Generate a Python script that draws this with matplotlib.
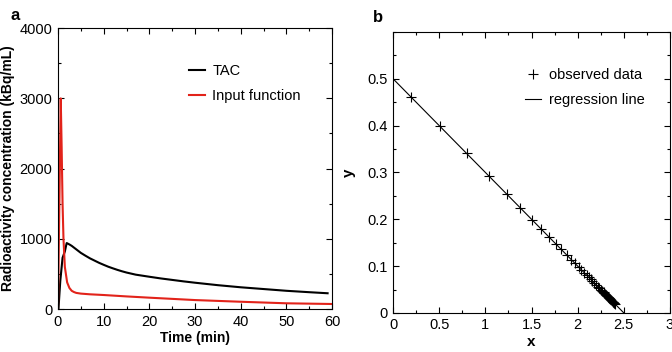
import numpy as np
import matplotlib
matplotlib.use("Agg")
import matplotlib.pyplot as plt
from matplotlib.ticker import MultipleLocator, FuncFormatter

plt.rcParams['font.family'] = ['Liberation Sans', 'DejaVu Sans']

# panel a: time-activity curve and input function
tac_t = [0.1, 0.5, 1.0, 1.5, 1.9, 2.5, 3, 3.5, 4, 4.5, 5, 6, 7, 8, 9, 10, 11,
         12, 13, 14, 15, 17, 20, 22.5, 25, 27.5, 30, 35, 40, 45, 50, 55, 59]
tac_v = [0, 400, 730, 820, 940, 920, 900, 875, 850, 825, 800, 760, 722, 690,
         658, 630, 603, 580, 558, 538, 520, 490, 460, 436, 415, 394, 375, 340,
         310, 285, 260, 240, 225]
inp_t = [0, 0.3, 0.6, 0.8, 1.0, 1.2, 1.5, 2, 2.5, 3, 3.5, 4, 5, 7, 10, 15, 20,
         30, 40, 50, 60]
inp_v = [0, 1500, 3000, 2300, 1500, 1000, 600, 380, 300, 260, 242, 230, 220,
         210, 200, 180, 162, 128, 104, 82, 72]

# panel b: observed data and regression line
obs_x = [0.19, 0.505, 0.80, 1.04, 1.23, 1.38, 1.505, 1.60, 1.69, 1.76, 1.82,
         1.88, 1.93, 1.97, 2.01, 2.04, 2.07, 2.10, 2.12, 2.14, 2.16, 2.18,
         2.20, 2.22, 2.235, 2.25, 2.265, 2.28, 2.29, 2.30, 2.31, 2.32, 2.33,
         2.34, 2.35, 2.36, 2.37, 2.38, 2.385, 2.39, 2.395, 2.40]
obs_y = [0.462, 0.399, 0.341, 0.293, 0.255, 0.224, 0.199, 0.180, 0.162, 0.148,
         0.136, 0.124, 0.114, 0.106, 0.098, 0.092, 0.086, 0.080, 0.076, 0.072,
         0.068, 0.064, 0.060, 0.056, 0.053, 0.050, 0.047, 0.044, 0.042, 0.040,
         0.038, 0.036, 0.034, 0.032, 0.030, 0.028, 0.026, 0.024, 0.023, 0.022,
         0.021, 0.020]
reg_x = [0, 2.5]
reg_y = [0.5, 0.0]


def style_axes(ax):
    ax.tick_params(which='both', direction='in', top=True, right=True,
                   labelsize=10.5, pad=4, width=0.8)
    ax.tick_params(which='major', length=4)
    ax.tick_params(which='minor', length=2.5)
    for s in ax.spines.values():
        s.set_linewidth(0.8)


fig = plt.figure(figsize=(6.72, 3.52), dpi=100)
ax1 = fig.add_axes([0.0863, 0.122, 0.408, 0.798])
ax2 = fig.add_axes([0.585, 0.111, 0.412, 0.798])

ax1.plot(tac_t, tac_v, color='black', lw=1.5, label='TAC')
ax1.plot(inp_t, inp_v, color='#e2231a', lw=1.5, label='Input function')
ax1.set_xlim(0, 60)
ax1.set_ylim(0, 4000)
ax1.xaxis.set_major_locator(MultipleLocator(10))
ax1.xaxis.set_minor_locator(MultipleLocator(5))
ax1.yaxis.set_major_locator(MultipleLocator(1000))
ax1.yaxis.set_minor_locator(MultipleLocator(500))
ax1.set_xlabel('Time (min)', fontsize=10, fontweight='bold', labelpad=2)
ax1.set_ylabel('Radioactivity concentration (kBq/mL)', fontsize=10,
               fontweight='bold', labelpad=3)
style_axes(ax1)
ax1.legend(loc='upper left', bbox_to_anchor=(0.43, 0.92), frameon=False,
           fontsize=10.5, handlelength=1.1, handletextpad=0.5, labelspacing=0.8)

ax2.plot(obs_x, obs_y, ls='none', marker='+', ms=7, mew=0.8, color='black',
         label='observed data')
ax2.plot(reg_x, reg_y, color='black', lw=0.8, label='regression line')
ax2.set_xlim(0, 3)
ax2.set_ylim(0, 0.6)
ax2.xaxis.set_major_locator(MultipleLocator(0.5))
ax2.xaxis.set_minor_locator(MultipleLocator(0.25))
ax2.set_yticks([0, 0.1, 0.2, 0.3, 0.4, 0.5])
ax2.yaxis.set_minor_locator(MultipleLocator(0.05))
fmt = FuncFormatter(lambda v, p: '%g' % round(v, 3))
ax2.xaxis.set_major_formatter(fmt)
ax2.yaxis.set_major_formatter(fmt)
ax2.set_xlabel('x', fontsize=11, fontweight='bold', labelpad=2)
ax2.set_ylabel('y', fontsize=11, fontweight='bold', labelpad=8)
style_axes(ax2)
ax2.legend(loc='upper left', bbox_to_anchor=(0.43, 0.92), frameon=False,
           fontsize=10.5, handlelength=1.1, handletextpad=0.5, labelspacing=0.8)

fig.text(0.015, 0.955, 'a', fontsize=12, fontweight='bold', va='center')
fig.text(0.555, 0.95, 'b', fontsize=12, fontweight='bold', va='center')

fig.savefig('out.png', dpi=100)
